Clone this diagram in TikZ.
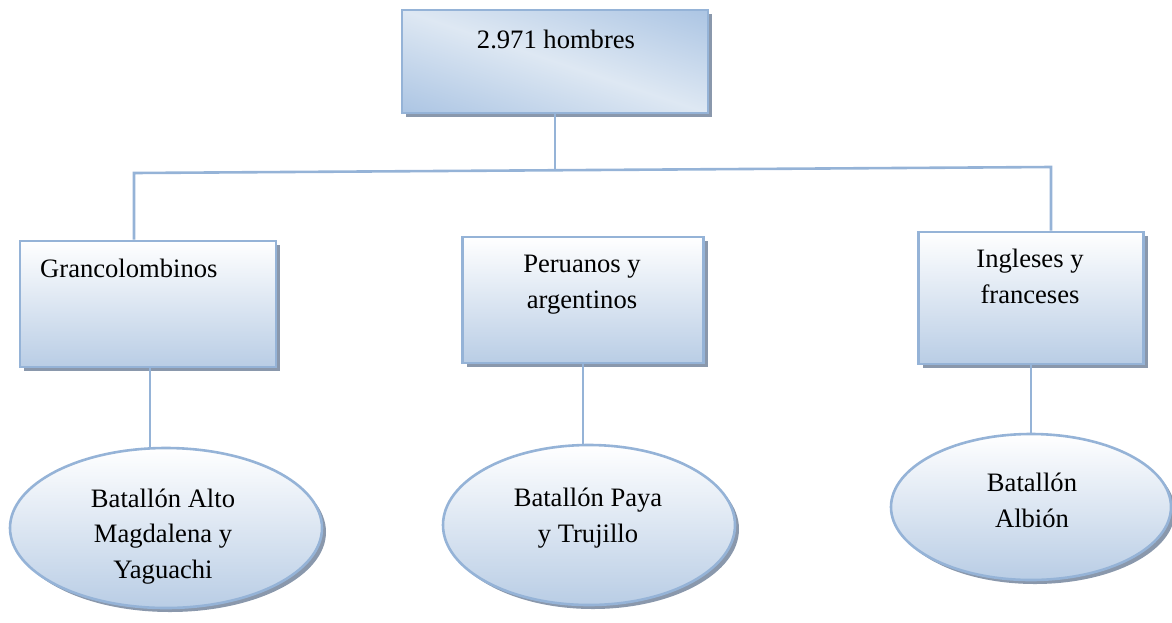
\documentclass[tikz,border=0pt]{standalone}
\usepackage{fontspec}
\setmainfont{Liberation Serif}
\usetikzlibrary{shapes.geometric,shadows}
\definecolor{bordblue}{RGB}{149,179,215}
\definecolor{lightblue}{RGB}{185,205,229}
\definecolor{paleblue}{RGB}{222,232,243}
\definecolor{midblue}{RGB}{152,183,221}
\definecolor{shadowgray}{RGB}{138,152,172}
\pgfdeclareverticalshading{diagband}{100bp}{color(0bp)=(midblue); color(30bp)=(midblue);
  color(50bp)=(paleblue); color(70bp)=(midblue); color(100bp)=(midblue)}
\tikzset{
  base/.style={draw=bordblue, line width=2.6pt,
    general shadow={fill=shadowgray, shadow xshift=4pt, shadow yshift=-4pt}},
  boxnode/.style={base, rectangle, inner sep=0pt, top color=white, bottom color=lightblue},
  topnode/.style={base, rectangle, inner sep=0pt, fill=paleblue,
    path picture={
      \shade[shading=diagband, shading angle=-18.6]
        ([xshift=-170pt,yshift=-170pt]path picture bounding box.center) rectangle
        ([xshift=170pt,yshift=170pt]path picture bounding box.center);
    }},
  ellnode/.style={base, ellipse, inner sep=0pt, top color=white, bottom color=lightblue},
  conn/.style={draw=bordblue, line width=2.6pt},
  txt/.style={font=\fontsize{26.6}{35.5}\selectfont, inner sep=0pt, align=center, anchor=base}
}
\begin{document}
\begin{tikzpicture}[x=1pt,y=-1pt]
\useasboundingbox (0,0) rectangle (1172,622);
% boxes
\node[topnode, minimum width=306pt, minimum height=103pt] (top) at (555,61.5) {};
\node[boxnode, minimum width=256pt, minimum height=126pt] (gran) at (148,304) {};
\node[boxnode, minimum width=241pt, minimum height=126pt] (peru) at (583,300) {};
\node[boxnode, minimum width=225pt, minimum height=132pt] (ingl) at (1031,298) {};
% ellipses
\node[ellnode, minimum width=312pt, minimum height=160pt] (e1) at (166,528) {};
\node[ellnode, minimum width=292pt, minimum height=160pt] (e2) at (589,525) {};
\node[ellnode, minimum width=280pt, minimum height=146pt] (e3) at (1031,507) {};
% connector coordinates
\coordinate (hL) at (134,173);
\coordinate (hR) at (1051,167);
\coordinate (hM) at (555,170.2);
\draw[conn] (top.south) -- (hM);
\draw[conn] (hL |- gran.north) -- (hL) -- (hR) -- (hR |- ingl.north);
\draw[conn] ([xshift=2pt]gran.south) -- ([xshift=2pt]gran.south |- e1.north);
\draw[conn] (peru.south) -- (peru.south |- e2.north);
\draw[conn] (ingl.south) -- (ingl.south |- e3.north);
% texts (base anchor = last line)
\node[txt] (t0) at (556,48) {2.971 hombres};
\node[txt, anchor=base west] (t1) at (40,277) {Grancolombinos};
\node[txt] (t2) at (582,308) {Peruanos y\\argentinos};
\node[txt] (t3) at (1030,303) {Ingleses y\\franceses};
\node[txt] (t4) at (163,578) {Batallón Alto\\Magdalena y\\Yaguachi};
\node[txt] (t5) at (588,542) {Batallón Paya\\y Trujillo};
\node[txt] (t6) at (1032,527) {Batallón\\Albión};
\end{tikzpicture}
\end{document}
